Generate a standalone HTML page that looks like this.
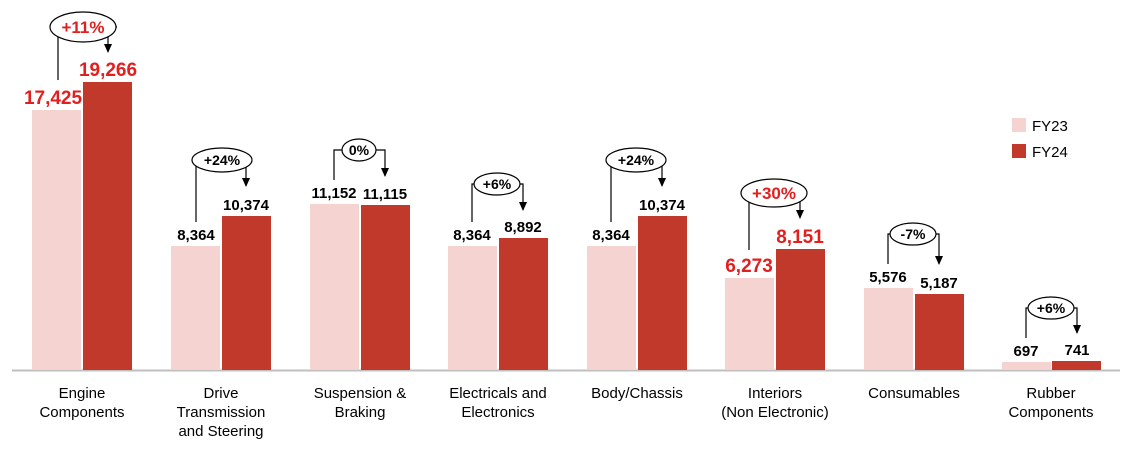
<!DOCTYPE html><html><head><style>body{margin:0;background:#fff}svg{display:block}text{font-family:"Liberation Sans",Arial,sans-serif}</style></head><body>
<svg width="1131" height="457" viewBox="0 0 1131 457">
<defs><marker id="a" markerWidth="8" markerHeight="9" refX="4" refY="8" orient="0" markerUnits="userSpaceOnUse"><path d="M0,0 L8,0 L4,9 Z" fill="#000"/></marker></defs>
<line x1="12" y1="370.5" x2="1120" y2="370.5" stroke="#bfbfbf" stroke-width="2"/>
<g fill="#f4d3d1">
<rect x="32" y="110" width="49" height="260"/><rect x="171" y="246" width="49" height="124"/><rect x="310" y="204" width="49" height="166"/><rect x="448" y="246" width="49" height="124"/><rect x="587" y="246" width="49" height="124"/><rect x="725" y="278" width="49" height="92"/><rect x="864" y="288" width="49" height="82"/><rect x="1002" y="362" width="49" height="8"/>
</g>
<g fill="#c0392b">
<rect x="83" y="82" width="49" height="288"/><rect x="222" y="216" width="49" height="154"/><rect x="361" y="205" width="49" height="165"/><rect x="499" y="238" width="49" height="132"/><rect x="638" y="216" width="49" height="154"/><rect x="776" y="249" width="49" height="121"/><rect x="915" y="294" width="49" height="76"/><rect x="1052" y="361" width="49" height="9"/>
</g>
<rect x="1012" y="118" width="14" height="14" fill="#f4d3d1"/><text x="1032" y="131" font-size="15">FY23</text>
<rect x="1012" y="144" width="14" height="14" fill="#c0392b"/><text x="1032" y="157" font-size="15">FY24</text>
<g font-weight="bold" text-anchor="middle" font-size="15">
<text x="53" y="104" fill="#e31e1e" font-size="19">17,425</text><text x="108" y="76" fill="#e31e1e" font-size="19">19,266</text>
<text x="196" y="240">8,364</text><text x="246" y="210">10,374</text>
<text x="334" y="198">11,152</text><text x="385" y="199">11,115</text>
<text x="472" y="240">8,364</text><text x="523" y="232">8,892</text>
<text x="611" y="240">8,364</text><text x="662" y="210">10,374</text>
<text x="749" y="272" fill="#e31e1e" font-size="19">6,273</text><text x="800" y="243" fill="#e31e1e" font-size="19">8,151</text>
<text x="888" y="282">5,576</text><text x="939" y="288">5,187</text>
<text x="1026" y="356">697</text><text x="1077" y="355">741</text>
</g>
<g stroke="#000" stroke-width="1.2" fill="none">
<path d="M58,80 V27 H50 M117,27 H108 V52" marker-end="url(#a)"/>
<path d="M196,222 V160 H192 M252,160 H246 V186" marker-end="url(#a)"/>
<path d="M334,180 V150 H342 M376,150 H385 V176" marker-end="url(#a)"/>
<path d="M472,222 V184 H474 M520,184 H523 V210" marker-end="url(#a)"/>
<path d="M611,222 V160 H606 M666,160 H662 V186" marker-end="url(#a)"/>
<path d="M749,250 V193 H741 M807,193 H800 V218" marker-end="url(#a)"/>
<path d="M888,264 V234 H890 M936,234 H939 V264" marker-end="url(#a)"/>
<path d="M1026,338 V308 H1028 M1074,308 H1077 V333" marker-end="url(#a)"/>
<ellipse cx="83" cy="27" rx="33" ry="15" fill="#fff"/>
<ellipse cx="222" cy="160" rx="30" ry="12" fill="#fff"/>
<ellipse cx="359" cy="150" rx="17" ry="11" fill="#fff"/>
<ellipse cx="497" cy="184" rx="23" ry="11" fill="#fff"/>
<ellipse cx="636" cy="160" rx="30" ry="12" fill="#fff"/>
<ellipse cx="774" cy="193" rx="33" ry="14" fill="#fff"/>
<ellipse cx="913" cy="234" rx="23" ry="11" fill="#fff"/>
<ellipse cx="1051" cy="308" rx="23" ry="11" fill="#fff"/>
</g>
<g font-weight="bold" text-anchor="middle" font-size="14">
<text x="83" y="33" fill="#e31e1e" font-size="17">+11%</text>
<text x="222" y="165">+24%</text><text x="359" y="155">0%</text><text x="497" y="189">+6%</text><text x="636" y="165">+24%</text>
<text x="774" y="199" fill="#e31e1e" font-size="17">+30%</text><text x="913" y="239">-7%</text><text x="1051" y="313">+6%</text>
</g>
<g text-anchor="middle" font-size="15">
<text x="82" y="398">Engine</text><text x="82" y="417">Components</text>
<text x="221" y="398">Drive</text><text x="221" y="417">Transmission</text><text x="221" y="436">and Steering</text>
<text x="360" y="398">Suspension &amp;</text><text x="360" y="417">Braking</text>
<text x="498" y="398">Electricals and</text><text x="498" y="417">Electronics</text>
<text x="637" y="398">Body/Chassis</text>
<text x="775" y="398">Interiors</text><text x="775" y="417">(Non Electronic)</text>
<text x="914" y="398">Consumables</text>
<text x="1051" y="398">Rubber</text><text x="1051" y="417">Components</text>
</g>
</svg></body></html>
